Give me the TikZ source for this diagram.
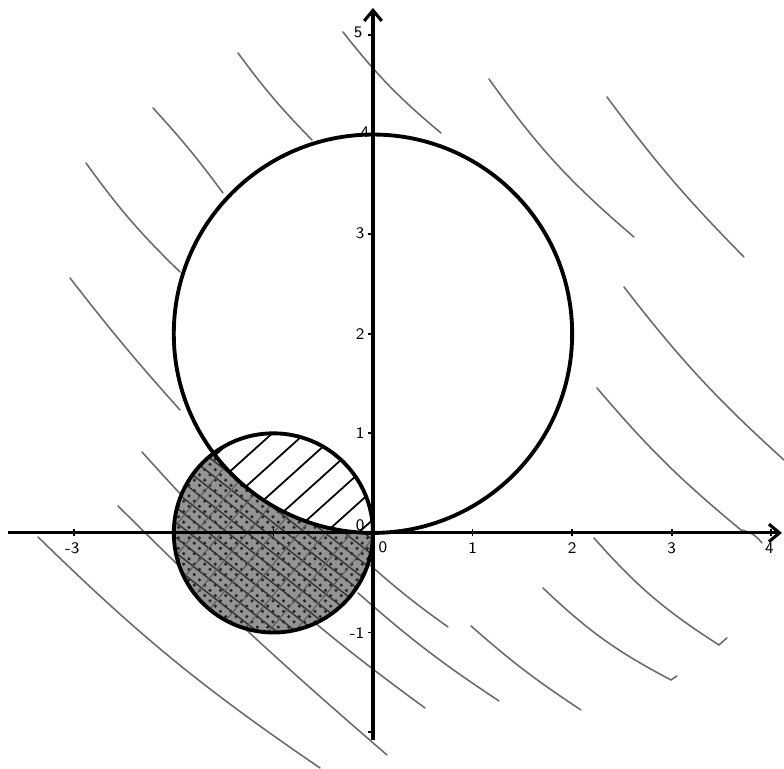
\documentclass[tikz,border=0pt]{standalone}
\usetikzlibrary{arrows.meta,patterns}
\begin{document}
\begin{tikzpicture}[x=1cm,y=1cm,
  bgcurve/.style={draw=black!58, line width=0.45pt, line cap=round},
  axisline/.style={line width=0.9pt, black},
  circ/.style={line width=1.1pt, black},
  tickmark/.style={line width=0.5pt, black},
  ticklab/.style={font=\sffamily\fontsize{4.6}{5}\selectfont, inner sep=0pt},
  hatchline/.style={line width=0.5pt, black},
  shadeline/.style={line width=0.4pt, black!80}]
\useasboundingbox (-3.745,-2.369) rectangle (4.127,5.351);
% background curves (pixel coordinates)
\begin{scope}[xshift=-3.745cm, yshift=5.351cm, x=0.01004cm, y=-0.01004cm]
 \draw[bgcurve] (343,32) to[bend right=6] (441,133);
 \draw[bgcurve] (238,53) to[bend right=4] (312,140);
 \draw[bgcurve] (153,108) to[bend left=3] (223,193);
 \draw[bgcurve] (86,163) to[bend right=5] (180,272);
 \draw[bgcurve] (70,278) to[bend right=2] (180,410);
 \draw[bgcurve] (489,79) to[bend right=7] (634,237);
 \draw[bgcurve] (607,97) to[bend right=4] (744,257);
 \draw[bgcurve] (624,287) to[bend right=5] (784,460);
 \draw[bgcurve] (597,388) to[bend right=5] (741,530) to[bend left=20] (762,543);
 \draw[bgcurve] (594,538) to[bend right=8] (719,645) -- (727,638);
 \draw[bgcurve] (543,588) to[bend right=8] (671,680) -- (677,676);
 \draw[bgcurve] (471,626) to[bend right=4] (581,710);
 \draw[bgcurve] (358,593) to[bend right=4] (499,701);
 \draw[bgcurve] (370,565) to[bend right=3] (448,627);
 \draw[bgcurve] (38,537) to[bend right=5] (320,768);
 \draw[bgcurve] (118,506) to[bend right=2] (387,755);
 \draw[bgcurve] (142,452) to[bend right=6] (425,708);
\end{scope}
% shaded part of the small circle
\fill[black!42] (-1,0) circle (1);
\fill[pattern=crosshatch dots, pattern color=black!85] (-1,0) circle (1);
\begin{scope}
 \clip (-1,0) circle (1);
 \begin{scope}[rotate around={-38:(-1,0)}]
  \foreach \d in {-1.0,-0.88,...,1.05} \draw[shadeline] (-2.5,\d) -- (0.5,\d);
 \end{scope}
 \begin{scope}[rotate around={50:(-1,0)}]
  \foreach \d in {-1.0,-0.8,...,1.05} \draw[line width=0.3pt, black!65] (-2.5,\d) -- (0.5,\d);
 \end{scope}
\end{scope}
% hatched region: inside small circle, outside big circle
\begin{scope}
 \clip (0,0) arc[start angle=0,end angle=126.87,radius=1]
       arc[start angle=216.87,end angle=270,radius=2] -- cycle;
 \fill[white] (-2.1,-0.2) rectangle (0.1,1.1);
 \begin{scope}[rotate around={42:(-0.8,0.45)}]
  \foreach \d in {-0.77,-0.55,...,0.8} \draw[hatchline] (-2.5,0.45+\d) -- (1.2,0.45+\d);
 \end{scope}
\end{scope}
% axes
\coordinate (xl) at (-3.665,0);
\coordinate (xr) at (4.106,0);
\coordinate (yb) at (0,-2.078);
\coordinate (yt) at (0,5.271);
\draw[axisline, -{Straight Barb[length=3pt,width=5pt]}] (xl) -- (xr);
\draw[axisline, -{Straight Barb[length=3pt,width=5pt]}] (yb) -- (yt);
\foreach \k in {-3,-2,-1,1,2,3,4} \draw[tickmark] (\k,-0.035) -- (\k,0.035);
\foreach \k in {-2,-1,1,2,3,4,5} \draw[tickmark] (-0.045,\k) -- (0,\k);
% circles
\coordinate (cbig) at (0,2);
\coordinate (csmall) at (-1,0);
\draw[circ] (cbig) circle (2);
\draw[circ] (csmall) circle (1);
% labels
\node[ticklab] (lxm3) at (-3.02,-0.15) {-3};
\node[ticklab] (lx1) at (1,-0.15) {1};
\node[ticklab] (lx2) at (2,-0.15) {2};
\node[ticklab] (lx3) at (3,-0.15) {3};
\node[ticklab] (lx4) at (3.98,-0.15) {4};
\node[ticklab] (lx0) at (0.1,-0.14) {0};
\node[ticklab] (ly0) at (-0.13,0.08) {0};
\node[ticklab] (lym1) at (-0.16,-1.01) {-1};
\node[ticklab] (ly1) at (-0.13,1) {1};
\node[ticklab] (ly2) at (-0.13,2) {2};
\node[ticklab] (ly3) at (-0.13,3.01) {3};
\node[ticklab] (ly4) at (-0.08,4.02) {4};
\node[ticklab] (ly5) at (-0.15,5.03) {5};
\end{tikzpicture}
\end{document}
